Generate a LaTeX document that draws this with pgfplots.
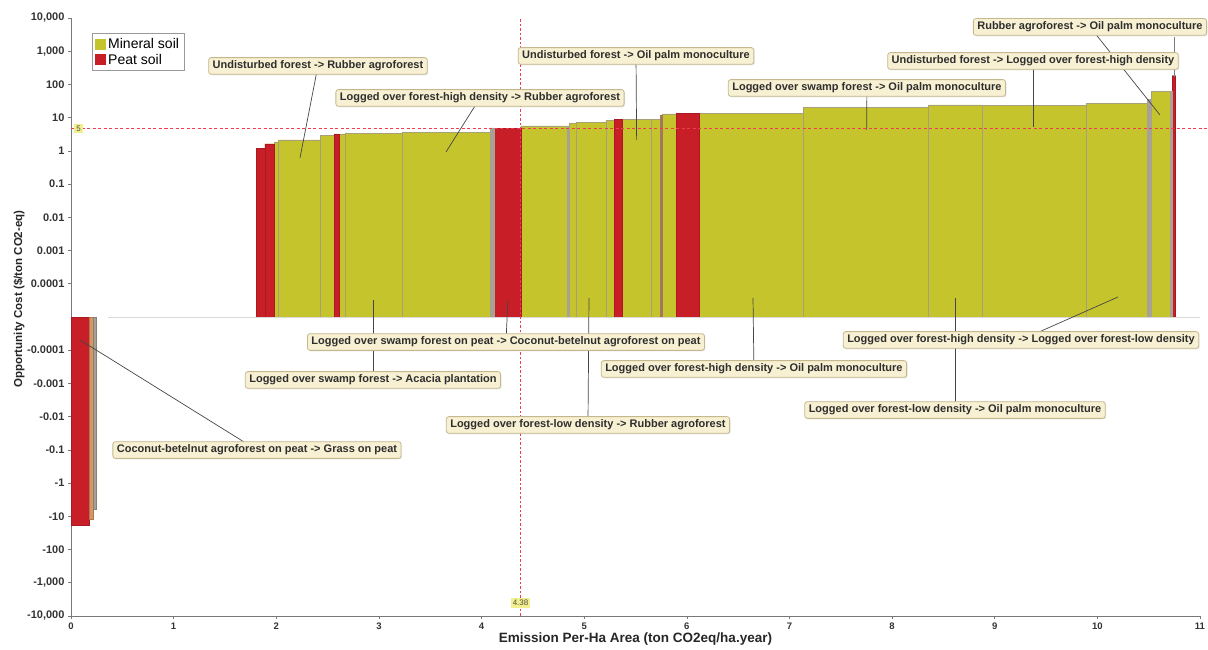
\documentclass[border=0pt]{standalone}
\usepackage{pgfplots}
\usepackage{pgfplotstable}
\pgfplotsset{compat=1.18}
\usetikzlibrary{shadows}
\usepackage{fontspec}
\setmainfont{Liberation Sans}
\setsansfont{Liberation Sans}

\definecolor{mineral}{RGB}{197,196,44}
\definecolor{peat}{RGB}{200,30,40}
\definecolor{divider}{RGB}{168,160,120}
\definecolor{grayBar}{RGB}{168,162,148}
\definecolor{tanBar}{RGB}{215,150,100}
\definecolor{brownBar}{RGB}{165,118,95}
\definecolor{callout}{RGB}{247,240,210}
\definecolor{calloutBorder}{RGB}{196,184,140}
\definecolor{refline}{RGB}{238,60,80}
\definecolor{refbox}{RGB}{242,240,140}
\definecolor{axisgray}{RGB}{120,120,120}
\definecolor{pointer}{RGB}{70,70,70}

% left edge of each bar (ton CO2eq/ha.year) and its opportunity cost ($/ton CO2-eq); last row closes the last bar
\pgfplotstableread{
x v
1.809 1.20
1.890 1.62
1.978 1.85
2.020 2.13
2.433 2.87
2.562 3.23
2.611 3.23
2.670 3.39
3.232 3.63
4.082 4.9
4.124 4.8
4.384 5.7
4.835 5.7
4.855 6.8
4.927 7.3
5.212 8.1
5.291 9.1
5.375 9.1
5.658 9.1
5.739 11.5
5.758 13.0
5.901 13.5
6.116 13.5
7.135 20.6
8.353 24.1
8.879 22.9
9.896 27.1
10.486 36.4
10.529 60.6
10.707 60.6
10.734 183
10.756 183
}\mineraltab

\pgfplotstableread{
x v
1.809 1.20
1.890 1.62
1.978 1.62
}\peatA
\pgfplotstableread{
x v
2.562 3.23
2.611 3.23
}\peatB
\pgfplotstableread{
x v
4.124 4.8
4.384 4.8
}\peatC
\pgfplotstableread{
x v
5.291 9.1
5.375 9.1
}\peatD
\pgfplotstableread{
x v
5.901 13.5
6.116 13.5
}\peatE
\pgfplotstableread{
x v
10.734 183
10.756 183
}\peatF
\pgfplotstableread{
x v
4.082 4.9
4.124 4.9
}\grayA
\pgfplotstableread{
x v
4.835 5.7
4.855 5.7
}\grayB
\pgfplotstableread{
x v
10.486 36.4
10.529 36.4
}\grayC
\pgfplotstableread{
x v
10.707 60.6
10.734 60.6
}\grayD
\pgfplotstableread{
x v
5.739 11.5
5.758 11.5
}\brownA
% negative bars
\pgfplotstableread{
x v
0.000 -17.9
0.178 -17.9
}\negPeat
\pgfplotstableread{
x v
0.178 -12.0
0.217 -12.0
}\negTan
\pgfplotstableread{
x v
0.217 -6.0
0.244 -6.0
}\negGray

\tikzset{
  callout/.style={draw=calloutBorder, fill=callout, rounded corners=2.5pt, line width=0.8pt,
    font=\bfseries\fontsize{11}{12.5}\selectfont, text=black!82, inner xsep=4pt, inner ysep=3.2pt,
    drop shadow={opacity=0.18, shadow xshift=1pt, shadow yshift=-1pt}},
  ptr/.style={pointer, line width=0.7pt},
}
\pgfplotsset{
  posbar/.style={ybar interval, forget plot, line width=0.4pt},
}

\begin{document}
\begin{tikzpicture}
\useasboundingbox (-71pt,-34pt) rectangle (1137pt,616pt);
\begin{axis}[
  at={(0,0)}, anchor=south west,
  scale only axis, width=1129pt, height=598pt,
  xmin=0, xmax=11, ymin=-9, ymax=9,
  clip=false,
  axis x line*=bottom, axis y line*=left,
  axis line style={axisgray, line width=0.8pt},
  tick style={axisgray, line width=0.6pt},
  major tick length=3pt, tick align=outside,
  xtick={0,1,2,3,4,5,6,7,8,9,10,11},
  xticklabels={0,1,2,3,4,5,6,7,8,9,10,11},
  ytick={-9,-8,-7,-6,-5,-4,-3,-2,-1,1,2,3,4,5,6,7,8,9},
  yticklabels={{-10,000},{-1,000},{-100},{-10},{-1},{-0.1},{-0.01},{-0.001},{-0.0001},
               {0.0001},{0.001},{0.01},{0.1},{1},{10},{100},{1,000},{10,000}},
  xticklabel style={font=\bfseries\fontsize{9.5}{10}\selectfont, text=black!80},
  yticklabel style={font=\bfseries\fontsize{11}{12}\selectfont, text=black!80},
  xlabel={Emission Per-Ha Area (ton CO2eq/ha.year)},
  ylabel={Opportunity Cost (\$/ton CO2-eq)},
  xlabel style={font=\bfseries\fontsize{13.5}{15}\selectfont, text=black!85, at={(axis description cs:0.5,-0.0385)}, anchor=center},
  ylabel style={font=\bfseries\fontsize{11.5}{13}\selectfont, text=black!85, at={(axis description cs:-0.046,0.530)}, anchor=center},
  legend style={at={(axis description cs:0.0186,0.975)}, anchor=north west, draw=gray!80, line width=0.8pt,
    font=\fontsize{14}{16}\selectfont, inner xsep=3pt, inner ysep=3pt, row sep=0pt, cells={anchor=west}},
]
% bars
\addplot[posbar, fill=mineral, draw=divider, line width=0.5pt]
  table[x=x, y expr={ln(\thisrow{v})/2.302585+5}] {\mineraltab};
\addplot[posbar, fill=peat, draw=peat!85!black] table[x=x, y expr={ln(\thisrow{v})/2.302585+5}] {\peatA};
\addplot[posbar, fill=peat, draw=peat!85!black] table[x=x, y expr={ln(\thisrow{v})/2.302585+5}] {\peatB};
\addplot[posbar, fill=peat, draw=peat!85!black] table[x=x, y expr={ln(\thisrow{v})/2.302585+5}] {\peatC};
\addplot[posbar, fill=peat, draw=peat!85!black] table[x=x, y expr={ln(\thisrow{v})/2.302585+5}] {\peatD};
\addplot[posbar, fill=peat, draw=peat!85!black] table[x=x, y expr={ln(\thisrow{v})/2.302585+5}] {\peatE};
\addplot[posbar, fill=peat, draw=peat!85!black] table[x=x, y expr={ln(\thisrow{v})/2.302585+5}] {\peatF};
\addplot[posbar, fill=grayBar, draw=grayBar] table[x=x, y expr={ln(\thisrow{v})/2.302585+5}] {\grayA};
\addplot[posbar, fill=grayBar, draw=grayBar] table[x=x, y expr={ln(\thisrow{v})/2.302585+5}] {\grayB};
\addplot[posbar, fill=grayBar, draw=grayBar] table[x=x, y expr={ln(\thisrow{v})/2.302585+5}] {\grayC};
\addplot[posbar, fill=grayBar, draw=grayBar] table[x=x, y expr={ln(\thisrow{v})/2.302585+5}] {\grayD};
\addplot[posbar, fill=brownBar, draw=brownBar] table[x=x, y expr={ln(\thisrow{v})/2.302585+5}] {\brownA};
\addplot[posbar, fill=peat, draw=peat!85!black] table[x=x, y expr={-(ln(-\thisrow{v})/2.302585+5)}] {\negPeat};
\addplot[posbar, fill=tanBar, draw=tanBar!80!black] table[x=x, y expr={-(ln(-\thisrow{v})/2.302585+5)}] {\negTan};
\addplot[posbar, fill=grayBar, draw=grayBar!80!black] table[x=x, y expr={-(ln(-\thisrow{v})/2.302585+5)}] {\negGray};

\addlegendimage{legend image code/.code={\fill[mineral] (0pt,-5pt) rectangle (10pt,5pt);}}
\addlegendentry{Mineral soil}
\addlegendimage{legend image code/.code={\fill[peat] (0pt,-5pt) rectangle (10pt,5pt);}}
\addlegendentry{Peat soil}

% zero line
\draw[gray!30, line width=0.8pt] (axis cs:0.36,0) -- (axis cs:11,0);

% reference lines (threshold 5 $/ton CO2-eq and 4.38 ton CO2eq/ha.year)
\draw[color=refline, line width=1.5pt, dash pattern=on 3pt off 2.5pt] (axis cs:0,5.67) -- (axis cs:11.08,5.67);
\draw[color=refline, line width=1pt, dash pattern=on 2.5pt off 2pt] (axis cs:4.38,-9) -- (axis cs:4.38,9);
\node[fill=refbox, font=\fontsize{8}{9}\selectfont, text=black!70, inner sep=2pt] at (axis cs:0.075,5.67) {5};
\node[fill=refbox, font=\fontsize{8}{9}\selectfont, text=black!70, inner sep=2pt] at (axis cs:4.38,-8.61) {4.38};

% pointers
\draw[ptr] (axis cs:2.406,7.556) -- (axis cs:2.231,4.786);
\draw[ptr] (axis cs:3.985,6.592) -- (axis cs:3.654,4.967);
\draw[ptr] (axis cs:5.505,7.857) -- (axis cs:5.511,5.328);
\draw[ptr] (axis cs:7.755,6.893) -- (axis cs:7.752,5.629);
\draw[ptr] (axis cs:9.373,7.706) -- (axis cs:9.373,5.720);
\draw[ptr] (axis cs:9.928,8.730) -- (axis cs:10.610,6.081);
\draw[pointer!70, line width=0.6pt] (axis cs:10.747,8.43) -- (axis cs:10.747,7.22);
\draw[ptr] (axis cs:4.238,-0.753) -- (axis cs:4.257,0.512);
\draw[ptr] (axis cs:2.942,-1.896) -- (axis cs:2.942,0.512);
\draw[ptr] (axis cs:5.037,-3.251) -- (axis cs:5.047,0.572);
\draw[ptr] (axis cs:6.654,-1.565) -- (axis cs:6.645,0.572);
\draw[ptr] (axis cs:9.256,-0.692) -- (axis cs:10.201,0.602);
\draw[ptr] (axis cs:8.613,-2.800) -- (axis cs:8.613,0.572);
\draw[ptr] (axis cs:1.812,-4.004) -- (axis cs:0.088,-0.692);

% callouts
\node[callout] at (axis cs:2.406,7.556) {Undisturbed forest -> Rubber agroforest};
\node[callout] at (axis cs:3.985,6.592) {Logged over forest-high density -> Rubber agroforest};
\node[callout] at (axis cs:5.505,7.857) {Undisturbed forest -> Oil palm monoculture};
\node[callout] at (axis cs:7.755,6.893) {Logged over swamp forest -> Oil palm monoculture};
\node[callout] at (axis cs:9.373,7.706) {Undisturbed forest -> Logged over forest-high density};
\node[callout] at (axis cs:9.928,8.730) {Rubber agroforest -> Oil palm monoculture};
\node[callout] at (axis cs:4.238,-0.753) {Logged over swamp forest on peat -> Coconut-betelnut agroforest on peat};
\node[callout] at (axis cs:2.942,-1.896) {Logged over swamp forest -> Acacia plantation};
\node[callout] at (axis cs:5.037,-3.251) {Logged over forest-low density -> Rubber agroforest};
\node[callout] at (axis cs:6.654,-1.565) {Logged over forest-high density -> Oil palm monoculture};
\node[callout] at (axis cs:9.256,-0.692) {Logged over forest-high density -> Logged over forest-low density};
\node[callout] at (axis cs:8.613,-2.800) {Logged over forest-low density -> Oil palm monoculture};
\node[callout] at (axis cs:1.812,-4.004) {Coconut-betelnut agroforest on peat -> Grass on peat};
\end{axis}
\end{tikzpicture}
\end{document}
